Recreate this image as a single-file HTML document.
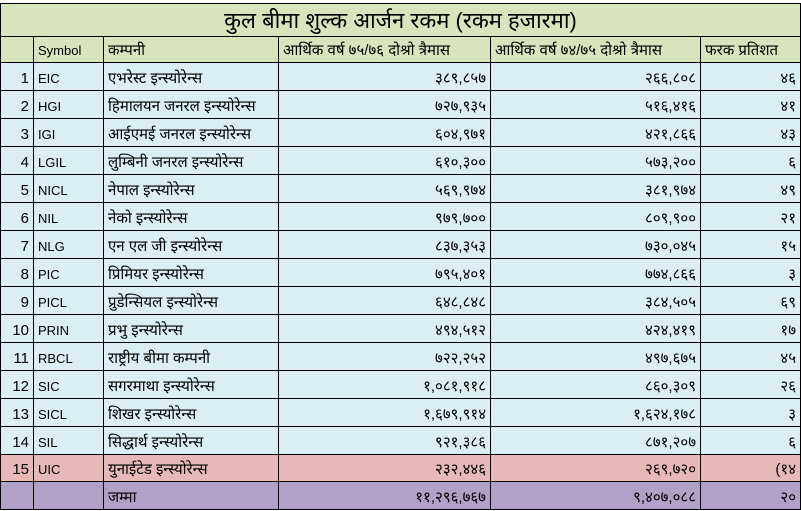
<!DOCTYPE html>
<html><head><meta charset="utf-8"><style>
body{margin:0;width:801px;height:511px;background:#fff;overflow:hidden;font-family:"Liberation Sans","Noto Sans Devanagari","Mangal","Lohit Devanagari",sans-serif;}
table{position:absolute;left:0;top:3px;border-collapse:collapse;table-layout:fixed;width:800px;}
td{border:1px solid #000;padding:0 4px 1px 4px;font-size:15px;white-space:nowrap;overflow:hidden;height:26px;line-height:20px;vertical-align:bottom;}
.t td{background:#d8e4bc;font-size:22px;text-align:center;height:31px;line-height:28px;}
.h td{background:#d8e4bc;height:24px;}
.b td{background:#daeef3;height:26px;}
.p td{background:#e6b8b7;height:25px;}
.s td{background:#b1a0c7;height:26px;}
.r{text-align:right;}
.sym{font-size:13px;}
</style></head><body>
<table>
<colgroup><col style="width:33px"><col style="width:70px"><col style="width:175px"><col style="width:212px"><col style="width:210px"><col style="width:100px"></colgroup>
<tr class="t"><td colspan="6">कुल बीमा शुल्क आर्जन रकम (रकम हजारमा)</td></tr>
<tr class="h"><td></td><td class="sym">Symbol</td><td>कम्पनी</td><td>आर्थिक वर्ष ७५/७६ दोश्रो त्रैमास</td><td>आर्थिक वर्ष ७४/७५ दोश्रो त्रैमास</td><td>फरक प्रतिशत</td></tr>
<tr class="b"><td class="r">1</td><td class="sym">EIC</td><td>एभरेस्ट इन्स्योरेन्स</td><td class="r">३८९,८५७</td><td class="r">२६६,८०८</td><td class="r">४६</td></tr>
<tr class="b"><td class="r">2</td><td class="sym">HGI</td><td>हिमालयन जनरल इन्स्योरेन्स</td><td class="r">७२७,९३५</td><td class="r">५१६,४१६</td><td class="r">४१</td></tr>
<tr class="b"><td class="r">3</td><td class="sym">IGI</td><td>आईएमई जनरल इन्स्योरेन्स</td><td class="r">६०४,९७१</td><td class="r">४२१,८६६</td><td class="r">४३</td></tr>
<tr class="b"><td class="r">4</td><td class="sym">LGIL</td><td>लुम्बिनी जनरल इन्स्योरेन्स</td><td class="r">६१०,३००</td><td class="r">५७३,२००</td><td class="r">६</td></tr>
<tr class="b"><td class="r">5</td><td class="sym">NICL</td><td>नेपाल इन्स्योरेन्स</td><td class="r">५६९,९७४</td><td class="r">३८१,९७४</td><td class="r">४९</td></tr>
<tr class="b"><td class="r">6</td><td class="sym">NIL</td><td>नेको इन्स्योरेन्स</td><td class="r">९७९,७००</td><td class="r">८०९,९००</td><td class="r">२१</td></tr>
<tr class="b"><td class="r">7</td><td class="sym">NLG</td><td>एन एल जी इन्स्योरेन्स</td><td class="r">८३७,३५३</td><td class="r">७३०,०४५</td><td class="r">१५</td></tr>
<tr class="b"><td class="r">8</td><td class="sym">PIC</td><td>प्रिमियर इन्स्योरेन्स</td><td class="r">७९५,४०१</td><td class="r">७७४,८६६</td><td class="r">३</td></tr>
<tr class="b"><td class="r">9</td><td class="sym">PICL</td><td>प्रुडेन्सियल इन्स्योरेन्स</td><td class="r">६४८,८४८</td><td class="r">३८४,५०५</td><td class="r">६९</td></tr>
<tr class="b"><td class="r">10</td><td class="sym">PRIN</td><td>प्रभु इन्स्योरेन्स</td><td class="r">४९४,५१२</td><td class="r">४२४,४१९</td><td class="r">१७</td></tr>
<tr class="b"><td class="r">11</td><td class="sym">RBCL</td><td>राष्ट्रीय बीमा कम्पनी</td><td class="r">७२२,२५२</td><td class="r">४९७,६७५</td><td class="r">४५</td></tr>
<tr class="b"><td class="r">12</td><td class="sym">SIC</td><td>सगरमाथा इन्स्योरेन्स</td><td class="r">१,०८१,९१८</td><td class="r">८६०,३०९</td><td class="r">२६</td></tr>
<tr class="b"><td class="r">13</td><td class="sym">SICL</td><td>शिखर इन्स्योरेन्स</td><td class="r">१,६७९,९१४</td><td class="r">१,६२४,१७८</td><td class="r">३</td></tr>
<tr class="b"><td class="r">14</td><td class="sym">SIL</td><td>सिद्धार्थ इन्स्योरेन्स</td><td class="r">९२१,३८६</td><td class="r">८७१,२०७</td><td class="r">६</td></tr>
<tr class="p"><td class="r">15</td><td class="sym">UIC</td><td>युनाईटेड इन्स्योरेन्स</td><td class="r">२३२,४४६</td><td class="r">२६९,७२०</td><td class="r">(१४</td></tr>
<tr class="s"><td></td><td></td><td>जम्मा</td><td class="r">११,२९६,७६७</td><td class="r">९,४०७,०८८</td><td class="r">२०</td></tr>
</table>
</body></html>
